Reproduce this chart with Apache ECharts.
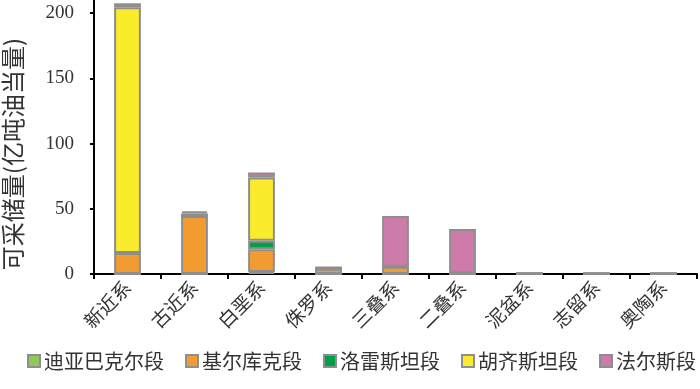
<!DOCTYPE html>
<html><head><meta charset="utf-8">
<script src="https://cdn.jsdelivr.net/npm/echarts@6/dist/echarts.min.js"></script>
<style>html,body{margin:0;padding:0;background:#fff}#c{width:700px;height:389px}</style>
</head><body><div id="c"></div>
<script>
const categories = ['新近系','古近系','白垩系','侏罗系','三叠系','二叠系','泥盆系','志留系','奥陶系'];
const seriesNames = ['迪亚巴克尔段','基尔库克段','洛雷斯坦段','胡齐斯坦段','法尔斯段'];
const diyabakr   = [0, 0, 1.5, 0, 0, 0, 0, 0, 0];
const kirkuk     = [16, 44.5, 17.5, 4, 5.5, 0.5, 0.3, 0.3, 0.3];
const lorestan   = [0, 0, 6.5, 0, 0, 0, 0, 0, 0];
const khuzestan  = [188.5, 2, 48.5, 1, 0, 0, 0, 0, 0];
const fars       = [3, 1.5, 3.8, 0, 39, 34, 0, 0, 0];
const yTicks = [0, 50, 100, 150, 200];
const yTitle = '可采储量(亿吨油当量)';

const colors = ['#92C85A', '#F29B30', '#00A04A', '#FAEB2C', '#CE7BAA'];
const values = [diyabakr, kirkuk, lorestan, khuzestan, fars];
const cjk = '"Noto Sans CJK SC", sans-serif';

const chart = echarts.init(document.getElementById('c'));
chart.setOption({
  animation: false,
  grid: { left: 94, right: 3, top: 0, bottom: 115 },
  legend: {
    top: 346, left: 22, width: 690,
    itemWidth: 12, itemHeight: 12, itemGap: 21,
    icon: 'rect',
    textStyle: { fontFamily: cjk, fontSize: 20, color: '#333', padding: [0, 0, 0, -1] },
    data: seriesNames
  },
  xAxis: {
    type: 'category',
    data: categories,
    axisLine: { lineStyle: { color: '#000', width: 2 } },
    axisTick: { show: true, length: 5, lineStyle: { color: '#000', width: 2 } },
    axisLabel: { rotate: 45, fontFamily: cjk, fontSize: 19, color: '#333', margin: 10 }
  },
  yAxis: {
    type: 'value', min: 0, max: 210, interval: 50,
    axisLine: { show: true, lineStyle: { color: '#000', width: 2 } },
    axisTick: { show: true, length: 4, lineStyle: { color: '#000', width: 2 } },
    axisLabel: { fontFamily: '"Liberation Serif", serif', fontSize: 19, color: '#333', margin: 20, showMaxLabel: false,
      formatter: v => yTicks.includes(v) ? String(v) : '' },
    splitLine: { show: false }
  },
  graphic: [{
    type: 'text', left: 1, top: 38,
    rotation: Math.PI / 2,
    style: { text: yTitle, font: '24px ' + cjk, fill: '#333' }
  }],
  series: seriesNames.map((n, i) => ({
    name: n, type: 'bar', stack: 'total', barWidth: '40%',
    data: values[i],
    itemStyle: { color: colors[i], borderColor: '#8E8E8E', borderWidth: 2 }
  }))
});
</script></body></html>
